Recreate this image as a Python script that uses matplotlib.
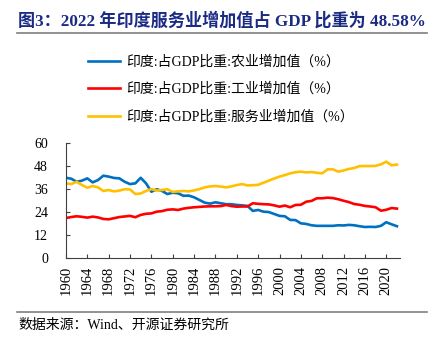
import matplotlib
matplotlib.use('Agg')
import matplotlib.pyplot as plt
from matplotlib.lines import Line2D

plt.rcParams['font.family'] = ['Liberation Serif', 'Noto Sans CJK SC']

years = list(range(1960, 2023))

# share of GDP, %
agriculture = [41.7, 41.2, 39.6, 40.2, 41.4, 39.3, 40.5, 42.8, 42.3, 41.6,
               41.4, 39.6, 38.4, 38.8, 41.7, 38.8, 34.4, 35.7, 34.8, 33.2,
               33.9, 33.6, 32.3, 32.4, 31.5, 30.1, 28.7, 28.2, 28.9, 28.4,
               27.9, 27.9, 27.5, 27.3, 27.0, 24.4, 24.9, 24.0, 23.8, 22.8,
               21.8, 21.6, 19.7, 19.6, 17.9, 17.6, 16.9, 16.6, 16.6, 16.6,
               16.6, 16.9, 16.8, 17.1, 16.9, 16.4, 16.0, 16.1, 16.0, 16.6,
               18.5, 17.4, 16.4]
industry = [20.7, 21.2, 21.6, 21.3, 20.9, 21.4, 21.0, 20.2, 20.0, 20.6,
            21.2, 21.5, 21.8, 21.1, 22.3, 22.9, 23.1, 24.0, 24.3, 25.0,
            25.2, 24.9, 25.6, 26.0, 26.3, 26.5, 26.7, 26.8, 26.8, 26.9,
            27.5, 26.9, 26.6, 26.7, 26.7, 28.4, 28.1, 27.9, 27.8, 27.3,
            26.6, 27.2, 26.3, 27.5, 27.6, 29.2, 29.6, 31.0, 31.0, 31.3,
            31.1, 30.5, 29.7, 29.0, 28.0, 27.6, 27.0, 26.7, 26.3, 24.5,
            25.0, 25.9, 25.6]
services = [38.8, 38.4, 39.6, 37.9, 36.5, 37.4, 36.7, 34.8, 35.3, 34.6,
            35.0, 35.7, 35.6, 33.2, 33.5, 34.8, 35.8, 35.0, 35.3, 35.7,
            34.3, 34.6, 34.8, 34.6, 35.1, 35.8, 36.7, 37.2, 37.4, 37.1,
            36.7, 37.2, 37.9, 38.4, 37.7, 37.8, 38.0, 39.1, 40.2, 41.3,
            42.3, 43.1, 44.0, 44.6, 44.9, 44.5, 44.7, 44.3, 44.0, 46.1,
            46.1, 44.9, 45.5, 46.3, 46.8, 47.8, 47.8, 47.8, 47.9, 48.7,
            50.1, 48.2, 48.58]

labels = ['印度:占GDP比重:农业增加值（%）',
          '印度:占GDP比重:工业增加值（%）',
          '印度:占GDP比重:服务业增加值（%）']
colors = ['#0070C0', '#FF0000', '#FFC000']

fig = plt.figure(figsize=(4.34, 3.39), dpi=100)

fig.text(0.042, 0.94, '图3：2022 年印度服务业增加值占 GDP 比重为 48.58%',
         fontsize=12.3, fontweight='bold', color='#1B2A83', va='center')
fig.add_artist(Line2D([0.04, 0.984], [0.902, 0.902], color='#7F7F7F', lw=1.2))

ax = fig.add_axes([0.152, 0.24, 0.77, 0.339])
for series, c, lab in zip([agriculture, industry, services], colors, labels):
    ax.plot(years, series, color=c, lw=1.9, label=lab)

ax.set_xlim(1960, 2022.6)
ax.set_ylim(0, 60)
ax.set_yticks(range(0, 61, 12))
ax.set_xticks(range(1960, 2021, 4))
ax.set_xticklabels([str(y) for y in range(1960, 2021, 4)], rotation=90)
for s in ['top', 'right']:
    ax.spines[s].set_visible(False)
for s in ['left', 'bottom']:
    ax.spines[s].set_color('#404040')
ax.tick_params(axis='y', direction='in', length=3, pad=13, labelsize=10, colors='#404040', labelcolor='black')
ax.tick_params(axis='x', direction='in', length=3, pad=6, labelsize=10.5, colors='#404040', labelcolor='black')

fig.legend(loc='upper left', bbox_to_anchor=(0.175, 0.874), frameon=False,
           fontsize=10, handlelength=2.3, labelspacing=1.0, handletextpad=0.45,
           borderpad=0.4)

fig.add_artist(Line2D([0.04, 0.984], [0.079, 0.079], color='#7F7F7F', lw=1.2))
fig.text(0.042, 0.04, '数据来源：Wind、开源证券研究所', fontsize=10, va='center')

fig.savefig('out.png', dpi=100)
